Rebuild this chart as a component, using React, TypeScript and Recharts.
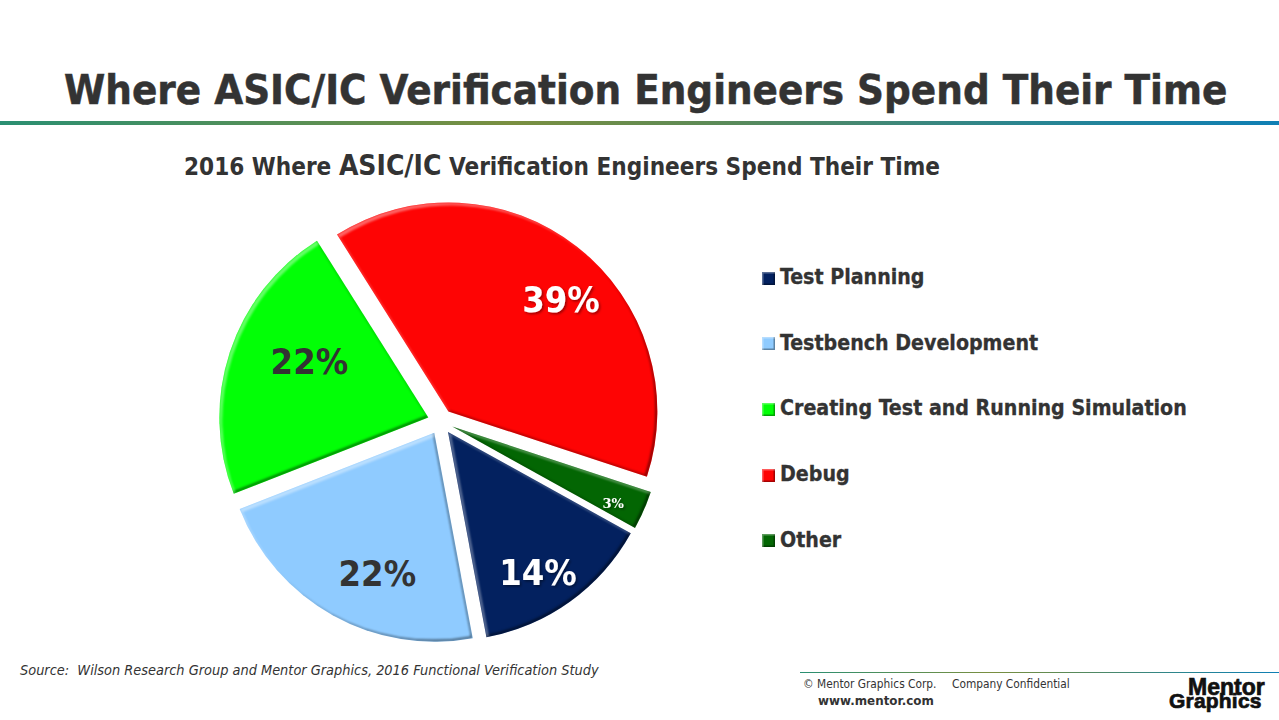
import { Legend, Pie, PieChart, Sector } from 'recharts';

const CATEGORIES = ['Test Planning', 'Testbench Development', 'Creating Test and Running Simulation', 'Debug', 'Other'];
const SHARES = [14, 22, 22, 39, 3];
const COLORS = ['#03215f', '#8fcbff', '#02ff06', '#fe0404', '#036603'];
const LABEL_COLORS = ['#ffffff', '#333333', '#333333', '#ffffff', '#ffffff'];
const LABEL_SIZES = [36, 36, 36, 36, 13];
// nudge from the default label spot, the source labels were dragged by hand
const LABEL_NUDGE = [[2, 19], [16, 9], [24, -9], [20, 7], [23, 17]];

const data = CATEGORIES.map((name, i) => ({ name, value: SHARES[i], fill: COLORS[i] }));

const RAD = Math.PI / 180;
const EXPLODE = 12.8;
const FONT = '"DejaVu Sans Condensed", "DejaVu Sans", sans-serif';

const dir = (midAngle: number) => [Math.cos(midAngle * RAD), -Math.sin(midAngle * RAD)];

function ExplodedSlice(props: any) {
  const [ux, uy] = dir(props.midAngle);
  return (
    <g filter="url(#bevel)">
      <Sector {...props} cx={props.cx + ux * EXPLODE} cy={props.cy + uy * EXPLODE} stroke="none" />
    </g>
  );
}

function SliceLabel(props: any) {
  const { cx, cy, midAngle, outerRadius, index } = props;
  const [ux, uy] = dir(midAngle);
  const r = EXPLODE + outerRadius * 0.72;
  const [nx, ny] = LABEL_NUDGE[index];
  return (
    <text
      x={cx + ux * r + nx}
      y={cy + uy * r + ny}
      textAnchor="middle"
      dominantBaseline="central"
      fill={LABEL_COLORS[index]}
      fontFamily={index === 4 ? '"DejaVu Serif", serif' : FONT}
      fontWeight="bold"
      fontSize={LABEL_SIZES[index]}
      filter={index === 2 || index === 1 ? undefined : 'url(#labelShadow)'}
    >
      {SHARES[index]}%
    </text>
  );
}

function LegendList({ payload }: any) {
  return (
    <div>
      {(payload || []).map((p: any) => (
        <div key={p.value} style={{ display: 'flex', alignItems: 'center', height: 65.6 }}>
          <svg width={13} height={13} style={{ marginRight: 5, marginTop: 3 }}>
            <rect width={13} height={13} fill={p.payload.fill} filter="url(#bevelSmall)" />
          </svg>
          <span style={{ font: `bold 21.2px ${FONT}`, color: '#333333', whiteSpace: 'nowrap', WebkitTextStroke: '0.3px #333' }}>{p.value}</span>
        </div>
      ))}
    </div>
  );
}

const abs = (left: number, top: number, extra: any = {}) => ({
  position: 'absolute' as const,
  left,
  top,
  whiteSpace: 'nowrap' as const,
  color: '#333333',
  ...extra,
});

const RULE = 'linear-gradient(90deg, #2a8f72 0%, #7a8f40 40%, #5d8a55 55%, #2a8590 80%, #0f7fb5 100%)';

export default function App() {
  return (
    <div style={{ position: 'absolute', left: 0, top: 0, width: 1279, height: 720, background: '#fff', overflow: 'hidden' }}>
      <div style={abs(64, 65, { font: `bold 41.6px ${FONT}`, WebkitTextStroke: '0.5px #333' })}>Where ASIC/IC Verification Engineers Spend Their Time</div>
      <div style={{ position: 'absolute', left: 0, top: 121, width: 1279, height: 4, background: RULE }} />
      <div style={abs(184, 149, { font: `bold 24.1px ${FONT}` })}>
        2016 Where <span style={{ fontSize: 28 }}>ASIC/IC</span> Verification Engineers Spend Their Time
      </div>

      <PieChart width={1279} height={720} margin={{ top: 0, right: 0, bottom: 0, left: 0 }} style={{ position: 'absolute', left: 0, top: 0 }}>
        <defs>
          <filter id="bevel" x="-5%" y="-5%" width="110%" height="110%" colorInterpolationFilters="sRGB">
            <feOffset in="SourceAlpha" dx="-2.5" dy="-2.5" result="a" />
            <feComposite in="SourceAlpha" in2="a" operator="out" result="darkEdge" />
            <feGaussianBlur in="darkEdge" stdDeviation="1" result="darkBlur" />
            <feFlood floodColor="#000" floodOpacity="0.5" />
            <feComposite in2="darkBlur" operator="in" result="dark" />
            <feOffset in="SourceAlpha" dx="2.5" dy="2.5" result="b" />
            <feComposite in="SourceAlpha" in2="b" operator="out" result="lightEdge" />
            <feGaussianBlur in="lightEdge" stdDeviation="1" result="lightBlur" />
            <feFlood floodColor="#fff" floodOpacity="0.4" />
            <feComposite in2="lightBlur" operator="in" result="light" />
            <feMerge result="edges">
              <feMergeNode in="dark" />
              <feMergeNode in="light" />
            </feMerge>
            <feComposite in="edges" in2="SourceAlpha" operator="in" result="clipped" />
            <feMerge>
              <feMergeNode in="SourceGraphic" />
              <feMergeNode in="clipped" />
            </feMerge>
          </filter>
          <filter id="bevelSmall" x="0" y="0" width="100%" height="100%" colorInterpolationFilters="sRGB">
            <feOffset in="SourceAlpha" dx="-1.5" dy="-1.5" result="a" />
            <feComposite in="SourceAlpha" in2="a" operator="out" result="darkEdge" />
            <feFlood floodColor="#000" floodOpacity="0.35" />
            <feComposite in2="darkEdge" operator="in" result="dark" />
            <feOffset in="SourceAlpha" dx="1.5" dy="1.5" result="b" />
            <feComposite in="SourceAlpha" in2="b" operator="out" result="lightEdge" />
            <feFlood floodColor="#fff" floodOpacity="0.35" />
            <feComposite in2="lightEdge" operator="in" result="light" />
            <feMerge>
              <feMergeNode in="SourceGraphic" />
              <feMergeNode in="dark" />
              <feMergeNode in="light" />
            </feMerge>
          </filter>
          <filter id="labelShadow" x="-20%" y="-20%" width="140%" height="140%">
            <feDropShadow dx="1.5" dy="1.5" stdDeviation="1.2" floodColor="#000" floodOpacity="0.4" />
          </filter>
        </defs>
        <Pie
          data={data}
          dataKey="value"
          nameKey="name"
          cx={440.5}
          cy={421.5}
          outerRadius={209}
          startAngle={-29}
          endAngle={-389}
          stroke="none"
          shape={ExplodedSlice}
          label={SliceLabel}
          labelLine={false}
          isAnimationActive={false}
        />
        <Legend
          content={LegendList}
          itemSorter={null}
          wrapperStyle={{ position: 'absolute', left: 762, top: 244, width: 500, bottom: 'auto', right: 'auto' }}
        />
      </PieChart>

      <div style={abs(20, 662, { font: `italic 14.4px ${FONT}` })}>
        Source:&nbsp; Wilson Research Group and Mentor Graphics, 2016 Functional Verification Study
      </div>
      <div style={{ position: 'absolute', left: 800, top: 672, width: 479, height: 1, background: RULE }} />
      <div style={abs(803, 677, { font: `11.8px ${FONT}` })}>© Mentor Graphics Corp.</div>
      <div style={abs(952, 677, { font: `11.8px ${FONT}` })}>Company Confidential</div>
      <div style={abs(818, 694, { font: `bold 11.9px "DejaVu Sans", sans-serif` })}>www.mentor.com</div>
      <div style={abs(1188, 680.5, { color: '#111', font: 'bold 23px/13px "Liberation Sans", sans-serif', WebkitTextStroke: '0.7px #111' })}>Mentor</div>
      <div style={abs(1169, 693.5, { color: '#111', font: 'bold 21px/13px "Liberation Sans", sans-serif', letterSpacing: 0.2, WebkitTextStroke: '0.7px #111' })}>Graphics</div>
    </div>
  );
}
